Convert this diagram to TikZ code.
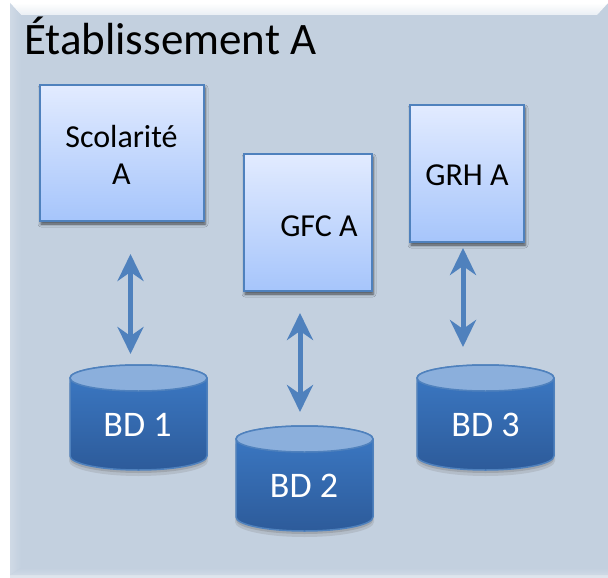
\documentclass[tikz,border=0pt]{standalone}
\usepackage{fontspec}
\setmainfont{Carlito}
\usetikzlibrary{arrows.meta,shapes.geometric,shadows.blur}
\definecolor{panel}{HTML}{C3D0DF}
\definecolor{edge}{HTML}{4F81BD}
\definecolor{boxtop}{HTML}{E2EBFF}
\definecolor{boxbot}{HTML}{A6C5FB}
\definecolor{cyltop}{HTML}{3C7AC6}
\definecolor{cylbot}{HTML}{2D5B9A}
\definecolor{cyllid}{HTML}{8BAFDC}
\tikzset{
  app/.style={draw=edge,line width=1.5pt,top color=boxtop,bottom color=boxbot,
    minimum width=#1,inner sep=0pt,outer sep=0pt,anchor=north west,
    blur shadow={shadow xshift=1pt,shadow yshift=-3pt,shadow blur radius=3pt,shadow opacity=65}},
  lbl/.style={font=\fontsize{32}{37}\selectfont,text=black,align=center,inner sep=0pt},
  dblbl/.style={font=\fontsize{36}{42}\selectfont,text=white,inner sep=0pt},
  link/.style={draw=edge,line width=5pt,{Stealth[length=27pt,width=26pt,inset=9pt]}-{Stealth[length=27pt,width=26pt,inset=9pt]}},
}
\newcommand{\dbshape}[2]{%
  \path[fill=black!55,opacity=.2] (#1-1,#2+13+5) -- (#1-1,#2+91+5) arc[start angle=180,end angle=0,x radius=69.5,y radius=15] -- (#1+138,#2+13+5) -- cycle;
  \path[fill=black!55,opacity=.3] (#1,#2+13+3) -- (#1,#2+91+3) arc[start angle=180,end angle=0,x radius=68.5,y radius=14] -- (#1+137,#2+13+3) -- cycle;
  \path[draw=edge,line width=1.5pt,top color=cyltop,bottom color=cylbot]
    (#1,#2+13) -- (#1,#2+91) arc[start angle=180,end angle=0,x radius=68.5,y radius=14] -- (#1+137,#2+13)
    arc[start angle=0,end angle=-180,x radius=68.5,y radius=13] -- cycle;
  \path[draw=edge,line width=1.5pt,fill=cyllid] (#1+68.5,#2+13) ellipse[x radius=68.5,y radius=13];
}
\begin{document}
\begin{tikzpicture}[x=1pt,y=-1pt]
\useasboundingbox[fill=white] (0,0) rectangle (608,578);
% panel with bevel
\fill[panel] (10,3) rectangle (608,575);
\fill[panel!55!white] (10,575) rectangle (608,578);
\shade[top color=white,bottom color=panel!35!white] (10,3) -- (608,3) -- (597,15) -- (21,15) -- cycle;
\shade[left color=panel!80!white,right color=panel] (10,3) -- (21,15) -- (21,568) -- (10,575) -- cycle;
\shade[top color=panel,bottom color=panel!80!white] (10,575) -- (21,568) -- (608,568) -- (608,575) -- cycle;
\node[font=\fontsize{45}{54}\selectfont,text=black,inner sep=0pt,anchor=base west] (title) at (24,54.5) {Établissement A};
% applications
\node[app=164pt,minimum height=136pt] (sco) at (40,85) {};
\node[lbl] (scotxt) at (121.5,155) {Scolarité\\A};
\node[app=128pt,minimum height=137pt] (gfc) at (244,154) {};
\node[lbl] (gfctxt) at (319,226) {GFC A};
\node[app=114pt,minimum height=137pt] (grh) at (410,105) {};
\node[lbl] (grhtxt) at (467,175) {GRH A};
% databases
\dbshape{70}{365}
\dbshape{236}{426}
\dbshape{417}{365}
\node[dblbl] (bd1) at (137.5,425) {BD 1};
\node[dblbl] (bd2) at (304,486) {BD 2};
\node[dblbl] (bd3) at (485.5,425) {BD 3};
% connectors
\coordinate (a1) at (130.5,254); \coordinate (b1) at (130.5,354);
\coordinate (a2) at (300,313);   \coordinate (b2) at (300,412);
\coordinate (a3) at (463,248);   \coordinate (b3) at (463,347);
\draw[link] (a1) -- (b1);
\draw[link] (a2) -- (b2);
\draw[link] (a3) -- (b3);
\end{tikzpicture}
\end{document}
